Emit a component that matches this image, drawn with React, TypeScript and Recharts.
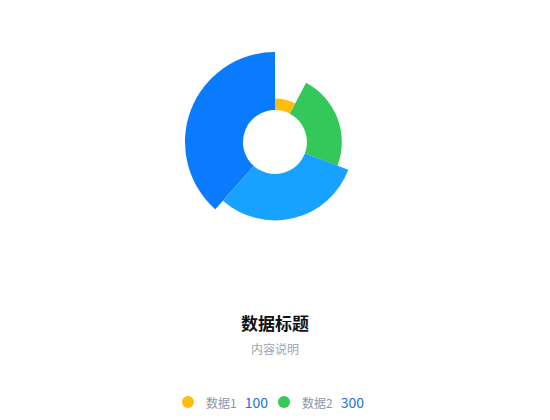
import React from 'react';
import { PieChart, Pie, Cell } from 'recharts';

const names = ['数据1', '数据2', '数据3', '数据4'];
const values = [100, 300, 400, 500];
const colors = ['#FFBE0B', '#34C759', '#18A2FF', '#0A7BFF'];

const data = names.map((name, i) => ({ name, value: values[i] }));

const INNER = 32;
const OUTER = 90;
const maxValue = Math.max(...values);
// rose type: radius grows with value
const radiusOf = (v: number) => INNER + ((OUTER - INNER) * v) / maxValue;

const font = '"Noto Sans CJK SC", "Noto Sans", sans-serif';

const App: React.FC = () => {
  return (
    <div
      style={{
        position: 'absolute',
        top: 0,
        left: 0,
        width: 550,
        height: 420,
        background: '#fff',
        fontFamily: font,
      }}
    >
      <PieChart
        width={550}
        height={290}
        margin={{ top: 0, right: 0, bottom: 0, left: 0 }}
      >
        {data.map((entry, index) => (
          <Pie
            key={entry.name}
            data={data}
            dataKey="value"
            nameKey="name"
            cx={275}
            cy={142}
            innerRadius={INNER}
            outerRadius={radiusOf(entry.value)}
            startAngle={90}
            endAngle={-270}
            stroke="none"
            isAnimationActive={false}
          >
            {data.map((d, i) => (
              <Cell key={d.name} fill={i === index ? colors[i] : 'none'} />
            ))}
          </Pie>
        ))}
      </PieChart>
      <div
        style={{
          position: 'absolute',
          top: 311,
          left: 0,
          width: 550,
          textAlign: 'center',
          fontSize: 17,
          fontWeight: 'bold',
          color: '#111',
          lineHeight: '24px',
        }}
      >
        数据标题
      </div>
      <div
        style={{
          position: 'absolute',
          top: 341,
          left: 0,
          width: 550,
          textAlign: 'center',
          fontSize: 12,
          color: '#9aa3b5',
          lineHeight: '16px',
        }}
      >
        内容说明
      </div>
      <div
        style={{
          position: 'absolute',
          top: 392,
          left: 182,
          display: 'flex',
          alignItems: 'center',
          height: 20,
        }}
      >
        {data.slice(0, 2).map((d, i) => (
          <div
            key={d.name}
            style={{ display: 'flex', alignItems: 'center', marginRight: 10 }}
          >
            <span
              style={{
                display: 'inline-block',
                width: 12,
                height: 12,
                borderRadius: 6,
                background: colors[i],
                marginRight: 12,
              }}
            />
            <span style={{ fontSize: 12, color: '#8c96a8', marginRight: 8 }}>
              {d.name}
            </span>
            <span style={{ fontSize: 14, color: '#1a6fe8' }}>{d.value}</span>
          </div>
        ))}
      </div>
    </div>
  );
};

export default App;
